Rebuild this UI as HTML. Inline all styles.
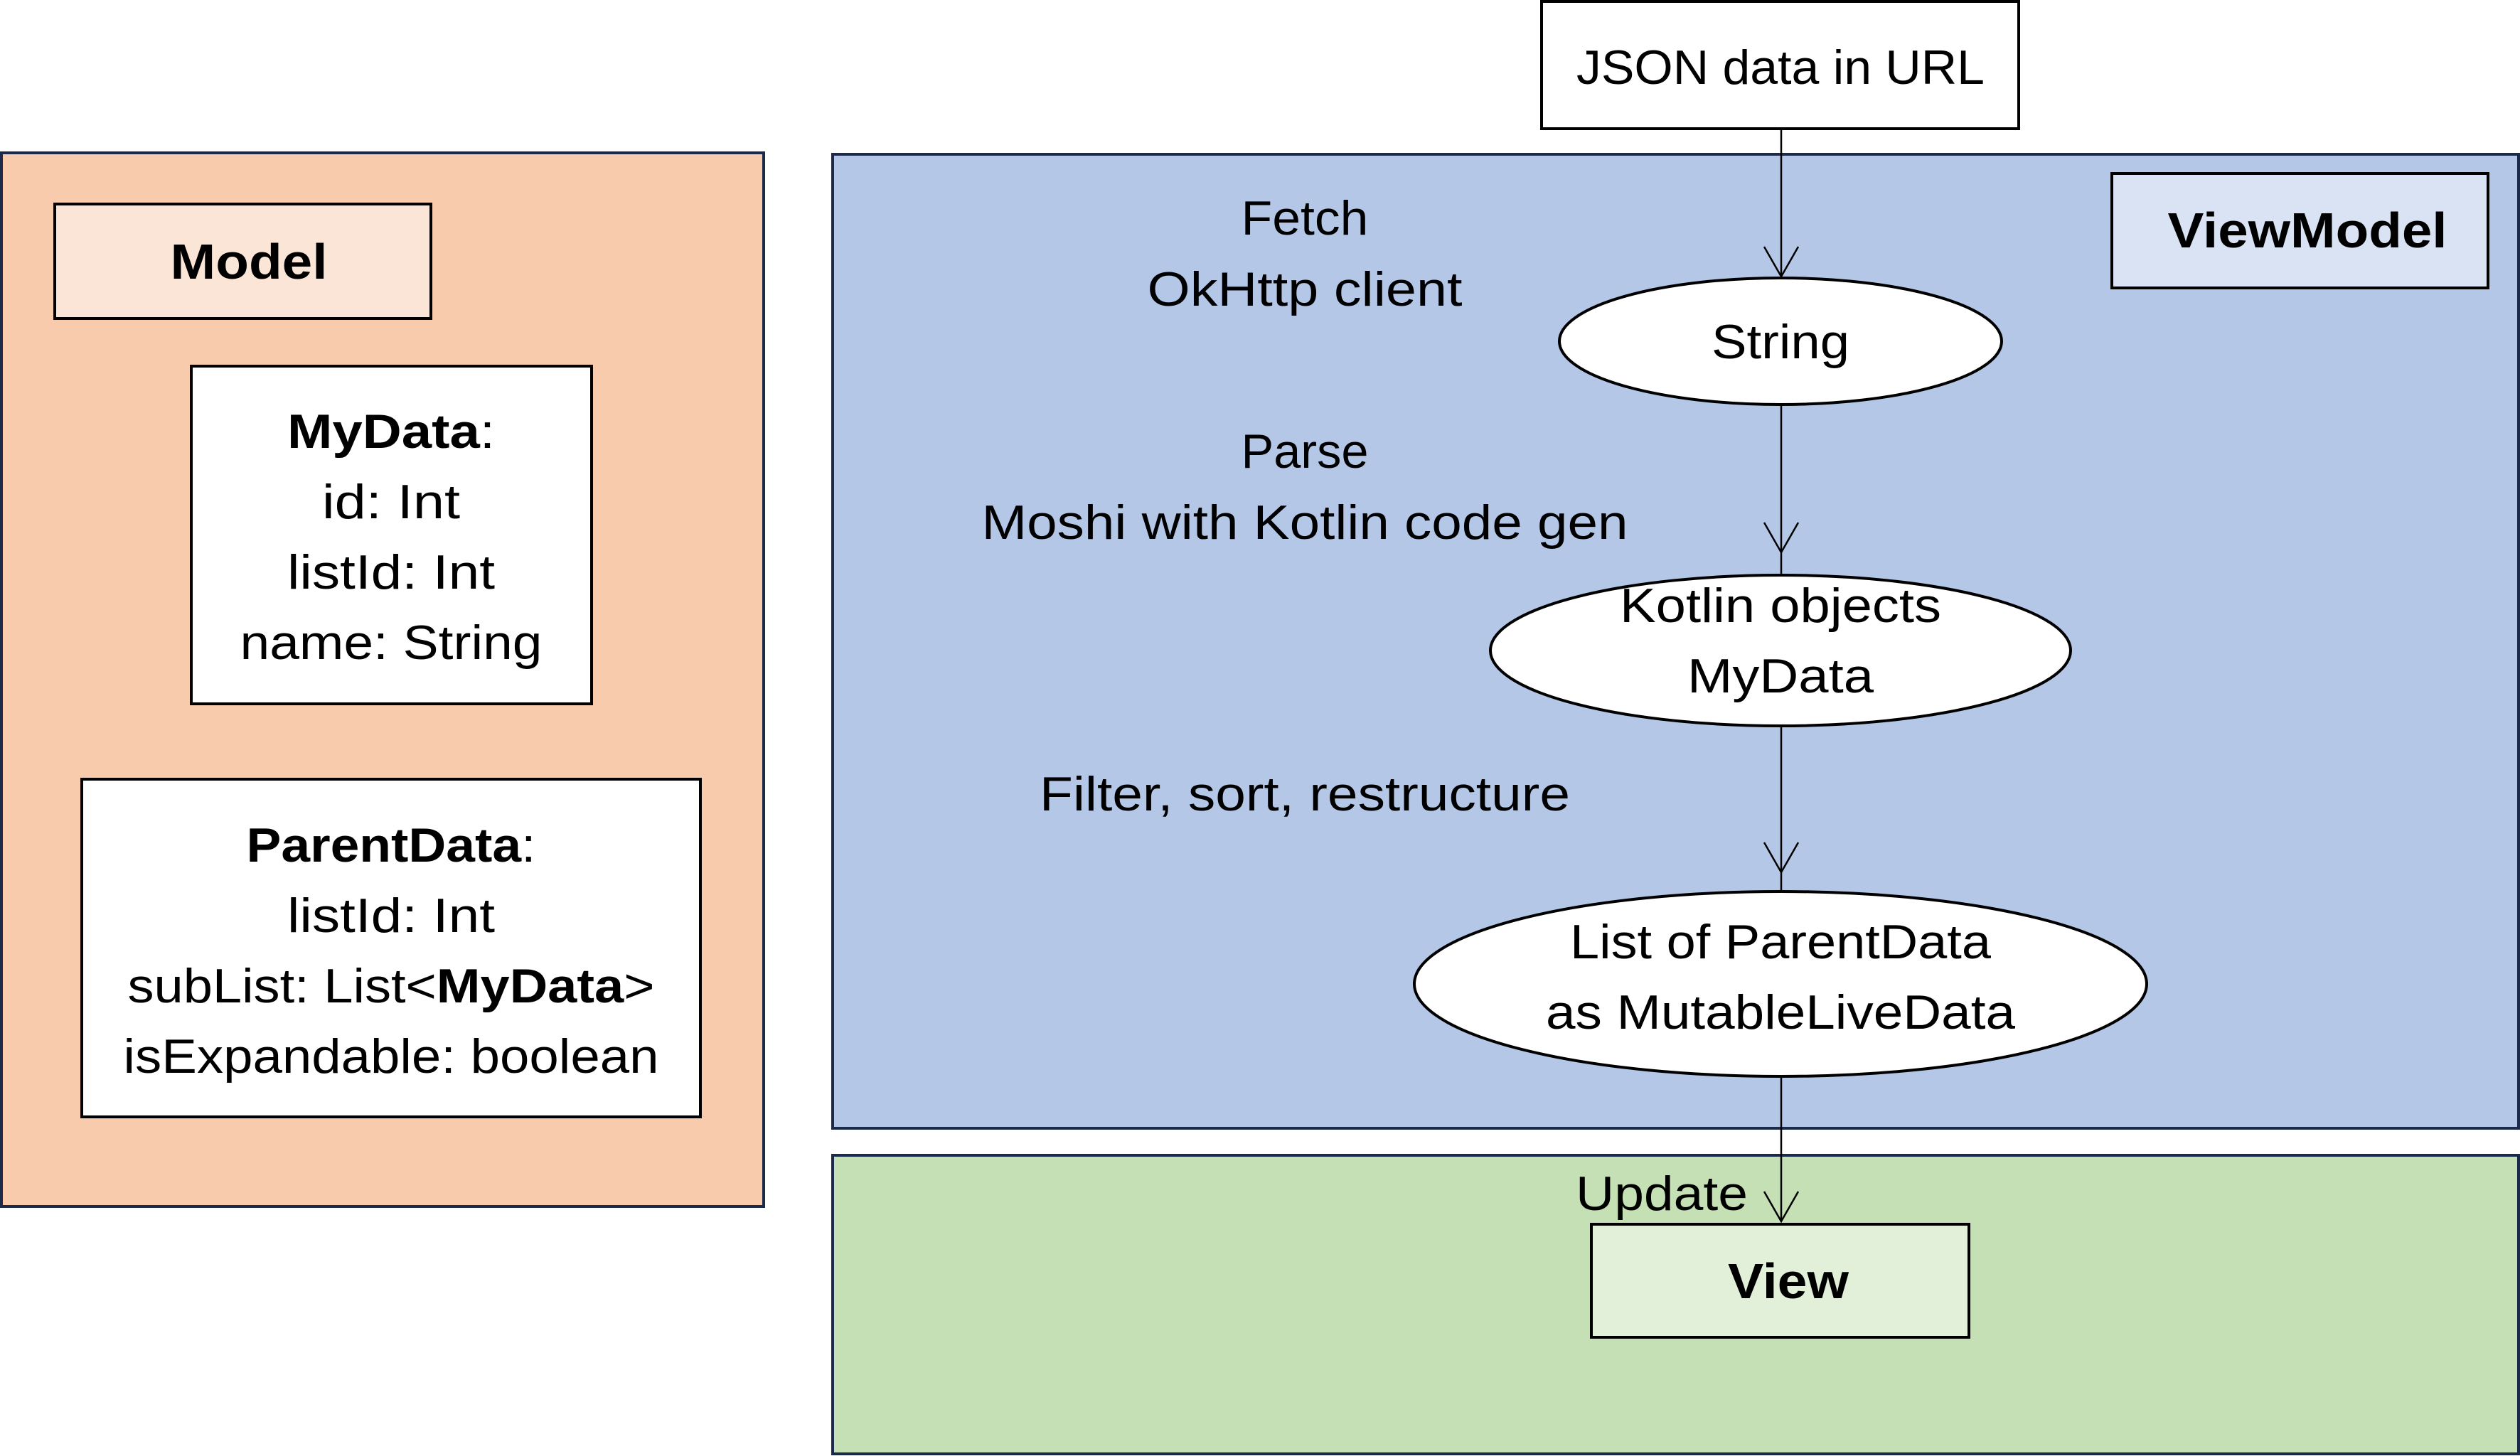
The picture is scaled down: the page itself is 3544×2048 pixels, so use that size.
<!DOCTYPE html>
<html><head><meta charset="utf-8"><style>
body{margin:0;width:3544px;height:2048px;background:#fff;overflow:hidden}
svg{display:block}
text{font-family:"Liberation Sans","DejaVu Sans",sans-serif;fill:#000}
</style></head><body>
<svg width="3544" height="2048" viewBox="0 0 3544 2048" xmlns="http://www.w3.org/2000/svg">
<g stroke="#1b2a4a" stroke-width="4">
<rect x="2" y="215" width="1072" height="1482" fill="#f8cbad"/>
<rect x="1171" y="217" width="2371" height="1370" fill="#b4c7e7"/>
<rect x="1171" y="1625" width="2371" height="420" fill="#c5e0b4"/>
</g>
<g stroke="#000" stroke-width="4">
<rect x="77" y="287" width="529" height="161" fill="#fbe5d6"/>
<rect x="269" y="515" width="563" height="475" fill="#fff"/>
<rect x="115" y="1096" width="870" height="475" fill="#fff"/>
<rect x="2970" y="244" width="529" height="161" fill="#dae3f3"/>
<rect x="2168" y="2" width="671" height="179" fill="#fff"/>
<rect x="2238" y="1722" width="531" height="159" fill="#e2f0d9"/>
<ellipse cx="2504" cy="480" rx="311" ry="89" fill="#fff"/>
<ellipse cx="2504" cy="915" rx="408" ry="106" fill="#fff"/>
<ellipse cx="2504" cy="1384" rx="515" ry="130" fill="#fff"/>
</g>
<g stroke="#000" stroke-width="2.5" fill="none">
<line x1="2505" y1="181" x2="2505" y2="389"/>
<polyline points="2481,347 2505,389 2529,347"/>
<line x1="2505" y1="569" x2="2505" y2="807"/>
<polyline points="2481,735 2505,777 2529,735"/>
<line x1="2505" y1="1021" x2="2505" y2="1252"/>
<polyline points="2481,1185 2505,1227 2529,1185"/>
<line x1="2505" y1="1514" x2="2505" y2="1718"/>
<polyline points="2481,1676 2505,1718 2529,1676"/>
</g>
<g font-size="68" text-anchor="middle" lengthAdjust="spacingAndGlyphs">
<text x="350" y="392" font-weight="bold" font-size="70" textLength="221" lengthAdjust="spacingAndGlyphs">Model</text>
<text x="3245" y="348" font-weight="bold" font-size="70" textLength="393" lengthAdjust="spacingAndGlyphs">ViewModel</text>
<text x="2515" y="1826" font-weight="bold" font-size="70" textLength="170" lengthAdjust="spacingAndGlyphs">View</text>
<text x="550" y="630" textLength="292" lengthAdjust="spacingAndGlyphs"><tspan font-weight="bold">MyData</tspan>:</text>
<text x="550" y="729" textLength="194" lengthAdjust="spacingAndGlyphs">id: Int</text>
<text x="550" y="828" textLength="292" lengthAdjust="spacingAndGlyphs">listId: Int</text>
<text x="550" y="927" textLength="425" lengthAdjust="spacingAndGlyphs">name: String</text>
<text x="550" y="1212" textLength="407" lengthAdjust="spacingAndGlyphs"><tspan font-weight="bold">ParentData</tspan>:</text>
<text x="550" y="1311" textLength="292" lengthAdjust="spacingAndGlyphs">listId: Int</text>
<text x="550" y="1410" textLength="741" lengthAdjust="spacingAndGlyphs">subList: List&lt;<tspan font-weight="bold">MyData</tspan>&gt;</text>
<text x="550" y="1509" textLength="753" lengthAdjust="spacingAndGlyphs">isExpandable: boolean</text>
<text x="2504" y="118" textLength="574" lengthAdjust="spacingAndGlyphs">JSON data in URL</text>
<text x="2504" y="504" textLength="194" lengthAdjust="spacingAndGlyphs">String</text>
<text x="2504" y="875" textLength="452" lengthAdjust="spacingAndGlyphs">Kotlin objects</text>
<text x="2504" y="974" textLength="262" lengthAdjust="spacingAndGlyphs">MyData</text>
<text x="2504" y="1348" textLength="592" lengthAdjust="spacingAndGlyphs">List of ParentData</text>
<text x="2504" y="1447" textLength="660" lengthAdjust="spacingAndGlyphs">as MutableLiveData</text>
<text x="1835" y="330" textLength="179" lengthAdjust="spacingAndGlyphs">Fetch</text>
<text x="1835" y="430" textLength="443" lengthAdjust="spacingAndGlyphs">OkHttp client</text>
<text x="1835" y="658" textLength="179" lengthAdjust="spacingAndGlyphs">Parse</text>
<text x="1835" y="758" textLength="909" lengthAdjust="spacingAndGlyphs">Moshi with Kotlin code gen</text>
<text x="1835" y="1140" textLength="746" lengthAdjust="spacingAndGlyphs">Filter, sort, restructure</text>
<text x="2337" y="1702" textLength="242" lengthAdjust="spacingAndGlyphs">Update</text>
</g>
</svg>
</body></html>
